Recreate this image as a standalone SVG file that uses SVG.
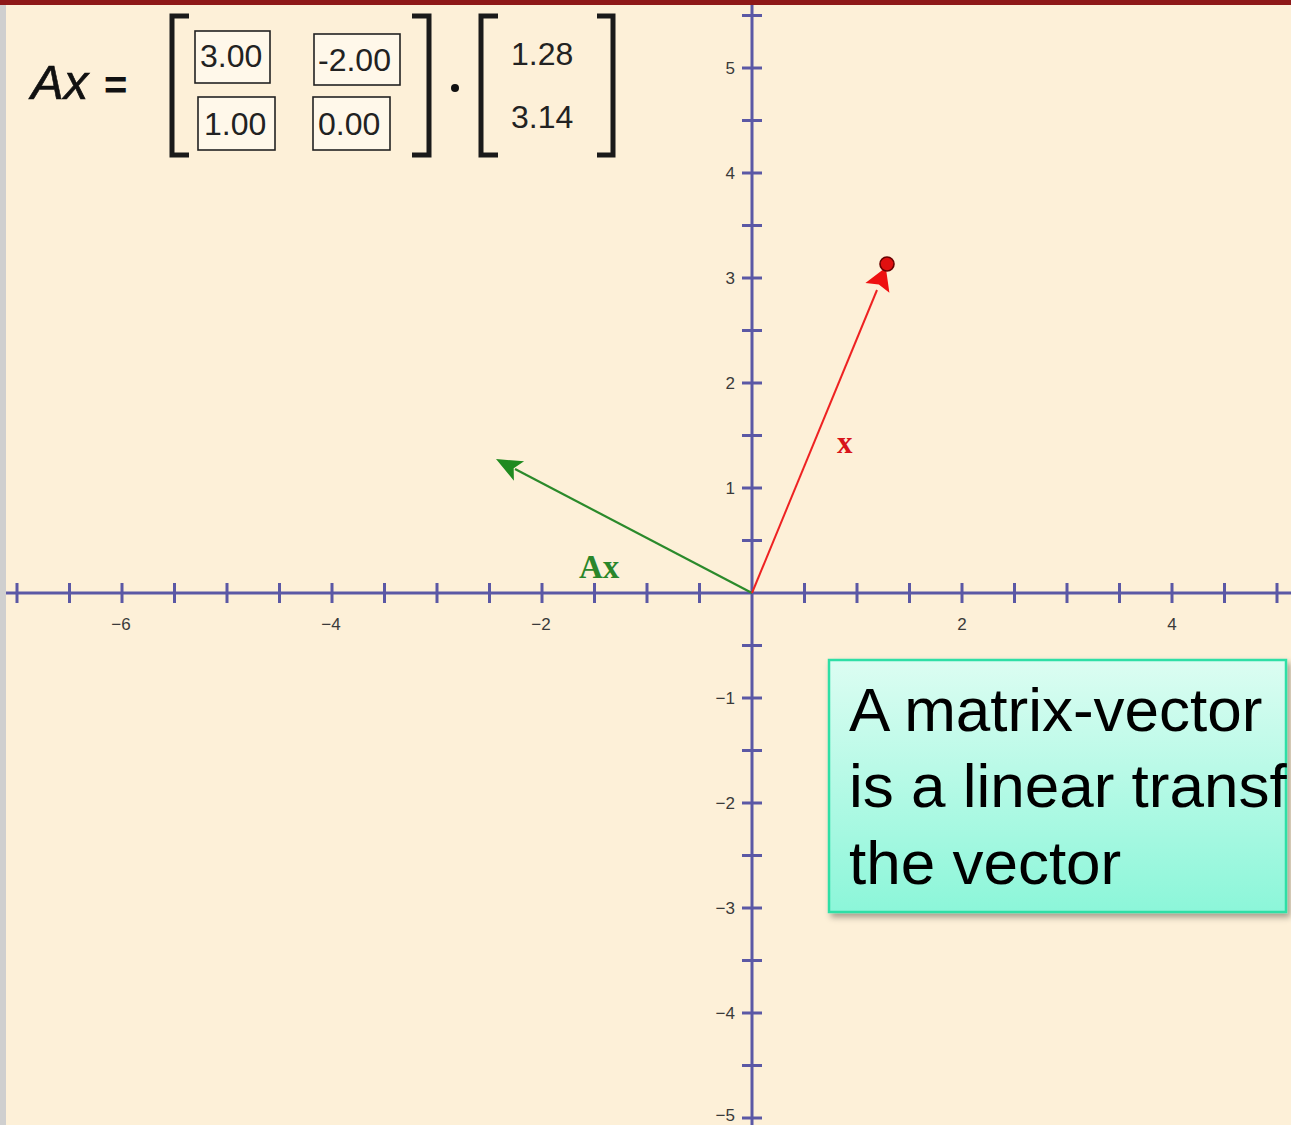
<svg xmlns="http://www.w3.org/2000/svg" width="1291" height="1125" viewBox="0 0 1291 1125">
<style>
.ax{stroke:#5b58a5;stroke-width:3;fill:none}
.tk{stroke:#5b58a5;stroke-width:3}
.tl{font-family:"Liberation Sans",Arial,sans-serif;font-size:17px;fill:#3a3a3a}
.num{font-family:"Liberation Sans",Arial,sans-serif;font-size:32px;fill:#222}
.ent{fill:#fff8ea;stroke:#222;stroke-width:1.6}
.br{fill:none;stroke:#1a1a1a;stroke-width:5;stroke-linecap:butt;stroke-linejoin:miter}
.big{font-family:"Liberation Sans",Arial,sans-serif;font-size:62px;fill:#000}
</style>
<defs>
<linearGradient id="boxg" x1="0" y1="0" x2="0" y2="1">
<stop offset="0" stop-color="#dcfdf2"/>
<stop offset="1" stop-color="#8cf6d9"/>
</linearGradient>
<filter id="sh" x="-10%" y="-10%" width="130%" height="130%">
<feDropShadow dx="3" dy="4" stdDeviation="3" flood-color="#000" flood-opacity="0.35"/>
</filter>
</defs>
<rect width="1291" height="1125" fill="#fdf0d8"/>
<rect x="0" y="0" width="1291" height="5" fill="#8e1818"/>
<rect x="0" y="5" width="6" height="1120" fill="#cfcfcf"/>

<g id="axes">
<line class="ax" x1="6" y1="593" x2="1291" y2="593"/>
<line class="ax" x1="752" y1="5" x2="752" y2="1125"/>
<g id="xticks">
<line class="tk" x1="17" y1="583" x2="17" y2="603"/>
<line class="tk" x1="69.5" y1="583" x2="69.5" y2="603"/>
<line class="tk" x1="122" y1="583" x2="122" y2="603"/>
<line class="tk" x1="174.5" y1="583" x2="174.5" y2="603"/>
<line class="tk" x1="227" y1="583" x2="227" y2="603"/>
<line class="tk" x1="279.5" y1="583" x2="279.5" y2="603"/>
<line class="tk" x1="332" y1="583" x2="332" y2="603"/>
<line class="tk" x1="384.5" y1="583" x2="384.5" y2="603"/>
<line class="tk" x1="437" y1="583" x2="437" y2="603"/>
<line class="tk" x1="489.5" y1="583" x2="489.5" y2="603"/>
<line class="tk" x1="542" y1="583" x2="542" y2="603"/>
<line class="tk" x1="594.5" y1="583" x2="594.5" y2="603"/>
<line class="tk" x1="647" y1="583" x2="647" y2="603"/>
<line class="tk" x1="699.5" y1="583" x2="699.5" y2="603"/>
<line class="tk" x1="804.5" y1="583" x2="804.5" y2="603"/>
<line class="tk" x1="857" y1="583" x2="857" y2="603"/>
<line class="tk" x1="909.5" y1="583" x2="909.5" y2="603"/>
<line class="tk" x1="962" y1="583" x2="962" y2="603"/>
<line class="tk" x1="1014.5" y1="583" x2="1014.5" y2="603"/>
<line class="tk" x1="1067" y1="583" x2="1067" y2="603"/>
<line class="tk" x1="1119.5" y1="583" x2="1119.5" y2="603"/>
<line class="tk" x1="1172" y1="583" x2="1172" y2="603"/>
<line class="tk" x1="1224.5" y1="583" x2="1224.5" y2="603"/>
<line class="tk" x1="1277" y1="583" x2="1277" y2="603"/>
</g>
<g id="yticks">
<line class="tk" x1="742" y1="15.5" x2="762" y2="15.5"/>
<line class="tk" x1="742" y1="68" x2="762" y2="68"/>
<line class="tk" x1="742" y1="120.5" x2="762" y2="120.5"/>
<line class="tk" x1="742" y1="173" x2="762" y2="173"/>
<line class="tk" x1="742" y1="225.5" x2="762" y2="225.5"/>
<line class="tk" x1="742" y1="278" x2="762" y2="278"/>
<line class="tk" x1="742" y1="330.5" x2="762" y2="330.5"/>
<line class="tk" x1="742" y1="383" x2="762" y2="383"/>
<line class="tk" x1="742" y1="435.5" x2="762" y2="435.5"/>
<line class="tk" x1="742" y1="488" x2="762" y2="488"/>
<line class="tk" x1="742" y1="540.5" x2="762" y2="540.5"/>
<line class="tk" x1="742" y1="645.5" x2="762" y2="645.5"/>
<line class="tk" x1="742" y1="698" x2="762" y2="698"/>
<line class="tk" x1="742" y1="750.5" x2="762" y2="750.5"/>
<line class="tk" x1="742" y1="803" x2="762" y2="803"/>
<line class="tk" x1="742" y1="855.5" x2="762" y2="855.5"/>
<line class="tk" x1="742" y1="908" x2="762" y2="908"/>
<line class="tk" x1="742" y1="960.5" x2="762" y2="960.5"/>
<line class="tk" x1="742" y1="1013" x2="762" y2="1013"/>
<line class="tk" x1="742" y1="1065.5" x2="762" y2="1065.5"/>
<line class="tk" x1="742" y1="1118" x2="762" y2="1118"/>
</g>
<g id="xlabels" class="tl" text-anchor="middle">
<text x="121" y="630">−6</text>
<text x="331" y="630">−4</text>
<text x="541" y="630">−2</text>
<text x="962" y="630">2</text>
<text x="1172" y="630">4</text>
</g>
<g id="ylabels" class="tl" text-anchor="end">
<text x="735" y="74">5</text>
<text x="735" y="179">4</text>
<text x="735" y="284">3</text>
<text x="735" y="389">2</text>
<text x="735" y="494">1</text>
<text x="735" y="704">−1</text>
<text x="735" y="809">−2</text>
<text x="735" y="914">−3</text>
<text x="735" y="1019">−4</text>
<text x="735" y="1121">−5</text>
</g>
</g>

<g id="connectors">
<g id="vector-Ax">
<line x1="752" y1="593" x2="515" y2="469" stroke="#2b8a2b" stroke-width="2.2"/>
<polygon points="496,459 524.1,461.3 513.7,468.3 513.9,480.7" fill="#1f8a1f"/>
</g>
<g id="vector-x">
<line x1="752" y1="593" x2="877" y2="290" stroke="#ee2222" stroke-width="2"/>
<polygon points="885.8,267.4 889.4,292.7 878.8,284.5 865.4,282.9" fill="#ee1111"/>
<circle cx="887" cy="264" r="7" fill="#e01010" stroke="#6a0000" stroke-width="1.6"/>
</g>
</g>

<g id="label-x">
<text x="837" y="453" font-family="'Liberation Serif',serif" font-weight="bold" font-size="31" fill="#d8141a">x</text>
</g>
<g id="label-Ax">
<text x="579" y="578" font-family="'Liberation Serif',serif" font-weight="bold" font-size="33" fill="#2a862a">Ax</text>
</g>

<g id="equation">
<text x="31" y="99" font-family="'Liberation Sans',Arial,sans-serif" font-style="italic" font-size="49" fill="#111" stroke="#111" stroke-width="0.6">Ax</text>
<text x="104" y="99" font-family="'Liberation Sans',Arial,sans-serif" font-weight="bold" font-size="40" fill="#111">=</text>
<polyline class="br" points="189,16 172,16 172,155 189,155"/>
<polyline class="br" points="412,16 429,16 429,155 412,155"/>
<rect class="ent" x="195" y="31" width="75" height="52"/>
<text class="num" x="200" y="67">3.00</text>
<rect class="ent" x="314" y="34" width="86" height="51"/>
<text class="num" x="318" y="71">-2.00</text>
<rect class="ent" x="198" y="97" width="77" height="53"/>
<text class="num" x="204" y="135">1.00</text>
<rect class="ent" x="313" y="97" width="77" height="53"/>
<text class="num" x="318" y="135">0.00</text>
<circle cx="455" cy="88" r="4" fill="#111"/>
<polyline class="br" points="498,16 481,16 481,155 498,155"/>
<polyline class="br" points="597,16 613,16 613,155 597,155"/>
<text class="num" x="511" y="65">1.28</text>
<text class="num" x="511" y="128">3.14</text>
</g>

<g id="textbox">
<rect x="829" y="660" width="457" height="252" fill="url(#boxg)" stroke="#2fdfa6" stroke-width="2.5" filter="url(#sh)"/>
<text class="big" x="849" y="731">A matrix-vector</text>
<text class="big" x="849" y="807">is a linear transf</text>
<text class="big" x="849" y="884">the vector</text>
</g>
</svg>
